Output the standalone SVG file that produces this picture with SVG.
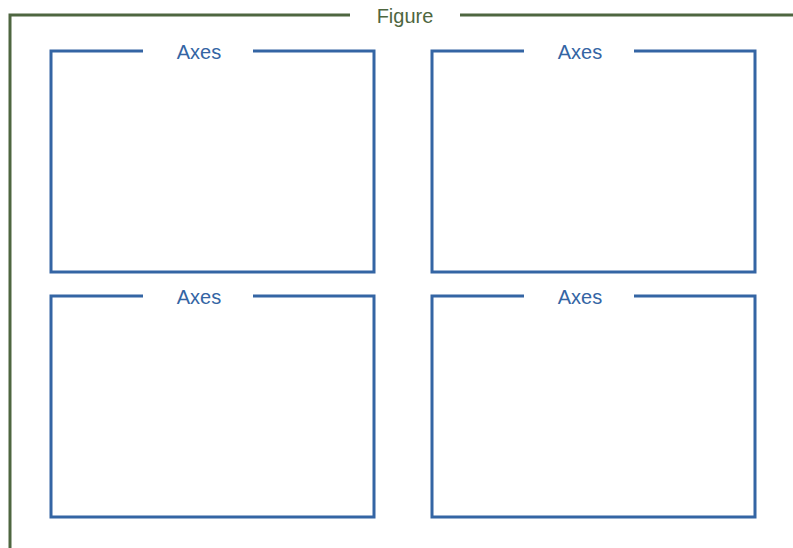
<svg xmlns="http://www.w3.org/2000/svg" width="793" height="548" viewBox="0 0 793 548">
<style>
.fig{fill:none;stroke:#4e6640;stroke-width:3}
.ax{fill:none;stroke:#3465a4;stroke-width:3}
.ft{font-family:"Liberation Sans",Arial,sans-serif;font-size:20px;fill:#4e6640;text-anchor:middle}
.at{font-family:"Liberation Sans",Arial,sans-serif;font-size:20px;fill:#3465a4;text-anchor:middle}
</style>
<rect width="793" height="548" fill="#ffffff"/>
<g id="figure">
<path class="fig" d="M350,15 H10 V548 M460,15 H793"/>
<text class="ft" x="405" y="23">Figure</text>
</g>
<g id="axes1">
<path class="ax" d="M143,51 H51 V272 H374 V51 H253"/>
<text class="at" x="199" y="59">Axes</text>
</g>
<g id="axes2">
<path class="ax" d="M524,51 H432 V272 H755 V51 H634"/>
<text class="at" x="580" y="59">Axes</text>
</g>
<g id="axes3">
<path class="ax" d="M143,296 H51 V517 H374 V296 H253"/>
<text class="at" x="199" y="304">Axes</text>
</g>
<g id="axes4">
<path class="ax" d="M524,296 H432 V517 H755 V296 H634"/>
<text class="at" x="580" y="304">Axes</text>
</g>
</svg>
